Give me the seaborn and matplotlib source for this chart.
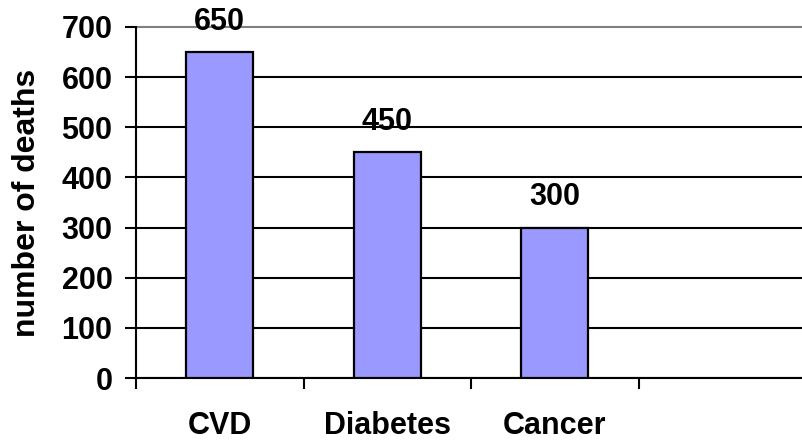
import matplotlib
matplotlib.use("Agg")
import matplotlib.pyplot as plt
import seaborn as sns
import pandas as pd
from matplotlib.ticker import FixedLocator, NullFormatter, FixedFormatter

categories = ["CVD", "Diabetes", "Cancer"]
deaths = [650, 450, 300]
y_ticks = [0, 100, 200, 300, 400, 500, 600, 700]
y_label = "number of deaths"

sns.set_theme(style="white")
plt.rcParams["font.family"] = ["Liberation Sans", "DejaVu Sans"]
plt.rcParams["font.weight"] = "bold"
for key in ["text.color", "axes.labelcolor", "xtick.color", "ytick.color"]:
    plt.rcParams[key] = "black"

df = pd.DataFrame({"cause": categories, "deaths": deaths})

fig = plt.figure(figsize=(8.03, 4.41), dpi=100)
ax = fig.add_axes([136 / 803, 1 - 378 / 441, 670 / 803, 351 / 441])

sns.barplot(data=df, x="cause", y="deaths", order=categories, color="#9999FF",
            width=0.4, edgecolor="black", linewidth=1.6, saturation=1, ax=ax, zorder=3)

ax.set_xlim(-0.5, 3.5)
ax.set_ylim(0, 700)

# value labels above each bar
for i, v in enumerate(deaths):
    ax.annotate(f"{v}", xy=(i, v), xytext=(0, 11), textcoords="offset points",
                ha="center", va="bottom", fontsize=22, fontweight="bold", color="black")

# y axis
ax.yaxis.set_major_locator(FixedLocator(y_ticks))
ax.set_yticklabels([str(t) for t in y_ticks], fontsize=22, fontweight="bold")
ax.tick_params(axis="y", which="major", direction="out", length=8, width=1.5,
               color="black", pad=9, left=True)
ax.yaxis.grid(True, color="black", linewidth=1.5, zorder=0)
ax.set_axisbelow(True)
grid = ax.get_ygridlines()
grid[-1].set_color("#808080")
grid[-1].set_clip_on(False)

# x axis: boundary ticks, labels centred in each slot
ax.xaxis.set_major_locator(FixedLocator([-0.5, 0.5, 1.5, 2.5, 3.5]))
ax.xaxis.set_major_formatter(NullFormatter())
ax.xaxis.set_minor_locator(FixedLocator(list(range(len(categories)))))
ax.xaxis.set_minor_formatter(FixedFormatter(categories))
ax.tick_params(axis="x", which="major", direction="out", length=8, width=1.5,
               color="black", bottom=True)
ax.tick_params(axis="x", which="minor", length=0, pad=24, labelsize=22)
for lbl in ax.get_xticklabels(minor=True):
    lbl.set_fontweight("bold")

ax.set_xlabel("")
ax.set_ylabel(y_label, fontsize=23, fontweight="bold", color="black")
ax.yaxis.set_label_coords(-0.14, 0.5)

for side in ["top", "right"]:
    ax.spines[side].set_visible(False)
for side in ["left", "bottom"]:
    ax.spines[side].set_color("black")
    ax.spines[side].set_linewidth(1.5)

fig.savefig("out.png", dpi=100)
